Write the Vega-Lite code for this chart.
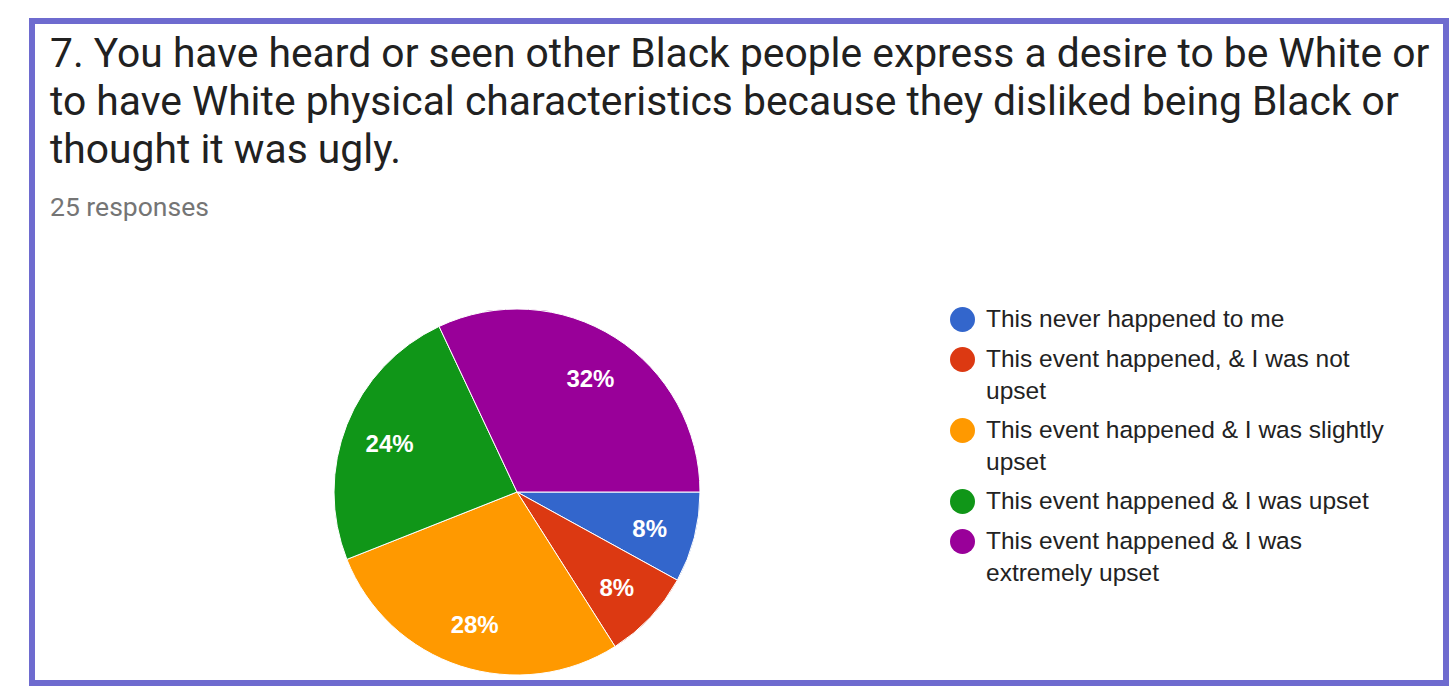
{
  "$schema": "https://vega.github.io/schema/vega-lite/v6.json",
  "width": 1414,
  "height": 662,
  "autosize": {"type": "none"},
  "padding": {"left": 32, "top": 21, "right": 7, "bottom": 8},
  "background": "white",
  "view": {"stroke": "#6e6bcf", "strokeWidth": 6},
  "config": {
    "view": {"stroke": "#6e6bcf", "strokeWidth": 6},
    "style": {"guide-label": {"lineHeight": 32}}
  },
  "title": {
    "text": [
      "7. You have heard or seen other Black people express a desire to be White or",
      "to have White physical characteristics because they disliked being Black or",
      "thought it was ugly."
    ],
    "subtitle": "25 responses",
    "anchor": "start",
    "frame": "group",
    "orient": "top",
    "offset": -201,
    "dx": 18,
    "font": "Roboto",
    "fontSize": 40.8,
    "fontWeight": "normal",
    "color": "#212121",
    "lineHeight": 48,
    "subtitleFont": "Roboto",
    "subtitleFontSize": 26.5,
    "subtitleColor": "#757575",
    "subtitlePadding": 23
  },
  "data": {
    "values": [
      {"category": "This never happened to me", "share": 0.08, "rank": 1},
      {"category": "This event happened, & I was not upset", "share": 0.08, "rank": 2},
      {"category": "This event happened & I was slightly upset", "share": 0.28, "rank": 3},
      {"category": "This event happened & I was upset", "share": 0.24, "rank": 4},
      {"category": "This event happened & I was extremely upset", "share": 0.32, "rank": 5}
    ]
  },
  "encoding": {
    "theta": {
      "field": "share",
      "type": "quantitative",
      "stack": true,
      "scale": {"range": [1.5707963, 7.8539816]}
    },
    "order": {"field": "rank", "type": "quantitative"}
  },
  "layer": [
    {
      "mark": {
        "type": "arc",
        "outerRadius": 183,
        "x": {"expr": "width * 0.343"},
        "y": {"expr": "height * 0.7115"},
        "stroke": "white",
        "strokeWidth": 1
      },
      "encoding": {
        "color": {
          "field": "category",
          "type": "nominal",
          "scale": {
            "domain": [
              "This never happened to me",
              "This event happened, & I was not upset",
              "This event happened & I was slightly upset",
              "This event happened & I was upset",
              "This event happened & I was extremely upset"
            ],
            "range": ["#3366cc", "#dc3912", "#ff9900", "#109618", "#990099"]
          },
          "legend": {
            "title": null,
            "orient": "none",
            "legendX": 918,
            "legendY": 286,
            "padding": 0,
            "symbolType": "circle",
            "symbolSize": 625,
            "symbolStrokeWidth": 0,
            "labelFont": "Liberation Sans",
            "labelFontSize": 24.5,
            "labelColor": "#222222",
            "labelOffset": 11,
            "labelLimit": 700,
            "rowPadding": 14,
            "labelExpr": "datum.label == 'This event happened, & I was not upset' ? ['This event happened, & I was not', 'upset'] : datum.label == 'This event happened & I was slightly upset' ? ['This event happened & I was slightly', 'upset'] : datum.label == 'This event happened & I was extremely upset' ? ['This event happened & I was', 'extremely upset'] : datum.label",
            "encode": {"labels": {"enter": {"lineHeight": {"value": 32}}, "update": {"lineHeight": {"value": 32}}}}
          }
        }
      }
    },
    {
      "mark": {
        "type": "text",
        "radius": 137,
        "x": {"expr": "width * 0.343"},
        "y": {"expr": "height * 0.7115"},
        "dy": 3.5,
        "fill": "white",
        "font": "Liberation Sans",
        "fontSize": 24,
        "fontWeight": "bold",
        "align": "center",
        "baseline": "middle"
      },
      "encoding": {
        "text": {"field": "share", "type": "quantitative", "format": ".0%"},
        "detail": {"field": "category", "type": "nominal"}
      }
    }
  ]
}
